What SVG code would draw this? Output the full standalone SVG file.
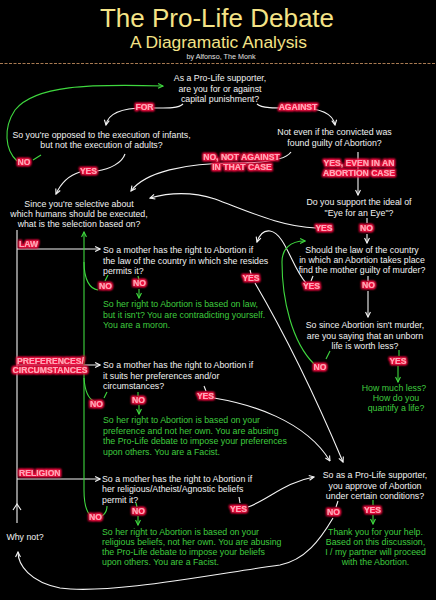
<svg xmlns="http://www.w3.org/2000/svg" width="436" height="600" viewBox="0 0 436 600">
<defs>
<style>
.q{font-family:"Liberation Sans",Arial,sans-serif;font-size:8.8px;fill:#f2f2f2}
.g{font-family:"Liberation Sans",Arial,sans-serif;font-size:8.8px;fill:#3fcc3f}
.m{text-anchor:middle}
.lb{font-family:"Liberation Sans",Arial,sans-serif;font-size:8.6px;font-weight:bold;fill:#ffa4b8;filter:url(#glow)}
.w{fill:none;stroke:#f4f4f4;stroke-width:1.1}
.gl{fill:none;stroke:#3fd83f;stroke-width:1.1}
.aw{marker-end:url(#aw)}
.ag{marker-end:url(#ag)}
.ttl{font-family:"Liberation Sans",Arial,sans-serif;fill:#f4e386;text-anchor:middle}
</style>
<filter id="glow" x="-30%" y="-60%" width="160%" height="220%">
<feMorphology in="SourceAlpha" operator="dilate" radius="0.6" result="d"/>
<feGaussianBlur in="d" stdDeviation="0.8" result="b"/>
<feFlood flood-color="#f01040"/>
<feComposite in2="b" operator="in" result="gw"/>
<feMerge><feMergeNode in="gw"/><feMergeNode in="gw"/><feMergeNode in="SourceGraphic"/></feMerge>
</filter>
<marker id="aw" viewBox="0 0 10 10" refX="9" refY="5" markerWidth="7" markerHeight="7" markerUnits="userSpaceOnUse" orient="auto">
<path d="M2,1.5 L9,5 L2,8.5" fill="none" stroke="#f4f4f4" stroke-width="1.6"/>
</marker>
<marker id="ag" viewBox="0 0 10 10" refX="9" refY="5" markerWidth="7" markerHeight="7" markerUnits="userSpaceOnUse" orient="auto">
<path d="M2,1.5 L9,5 L2,8.5" fill="none" stroke="#3fd83f" stroke-width="1.6"/>
</marker>
</defs>
<rect x="0" y="0" width="436" height="600" fill="#000"/>

<g id="title">
<text class="ttl" x="217" y="27" font-size="26">The Pro-Life Debate</text>
<text class="ttl" x="218.5" y="48" font-size="17.4">A Diagramatic Analysis</text>
<text x="221" y="59" font-family="Liberation Sans, Arial, sans-serif" font-size="7.2" fill="#e0e0e0" text-anchor="middle">by Alfonso, The Monk</text>
<line x1="0" y1="63.5" x2="436" y2="63.5" stroke="#a87a52" stroke-width="1" stroke-dasharray="3 1.5"/>
</g>

<g id="connectors">
<path class="w aw" d="M183,104 C178,109 165,108 145,108 C124,108 108,113 106,125"/>
<path class="w aw" d="M257,104 C262,109 280,108 298,108 C320,108 333,113 335,125"/>
<path class="w" d="M125,154 C122,163 110,169 97,171"/>
<path class="w aw" d="M80,172 C70,175 61,183 56,194"/>
<path class="w aw" d="M291,152 C285,161 262,163 235,163 C185,163 145,172 131,191"/>
<path class="w aw" d="M358,152 L358,195"/>
<path class="w aw" d="M316,228 C282,227 250,212 215,199 C190,191 168,193 150,198"/>
<path class="w" d="M367,218 L367,223"/>
<path class="w aw" d="M367,234 L367,243"/>
<path class="w" d="M313,276 L311,281"/>
<path class="w aw" d="M306,283 C292,268 285,233 270,231 C263,230 259,236 257,242"/>
<path class="w" d="M368,276 L368,281"/>
<path class="w aw" d="M368,291 L368,317"/>
<path class="w" d="M250,270 L251,274"/>
<path class="w aw" d="M255,283 Q300,360 343,462"/>
<path class="w" d="M204,386 L206,391"/>
<path class="w aw" d="M214,398 C250,404 305,420 330,461"/>
<path class="w" d="M239,497 L240,503"/>
<path class="w aw" d="M248,507 C268,500 285,482 314,477"/>
<path class="w" d="M338,501 L336,507"/>
<path class="w aw" d="M333,518 C320,540 305,560 280,565 C220,573 110,595 60,588 C30,582 18,565 18,552"/>
<path class="w" d="M17,230 L17,523"/>
<path class="w" d="M13,510 L17,504 L21,510"/>
<path class="w aw" d="M17,249 L100,249"/>
<path class="w aw" d="M17,365 L100,365"/>
<path class="w aw" d="M17,479 L100,479"/>

<path class="gl" d="M41,155 L33,160"/>
<path class="gl ag" d="M17,161 C5,150 3,128 15,110 C35,85 90,84 163,86"/>
<path class="gl ag" d="M90,515 C87,512 84,505 84,490 L84,232"/>
<path class="gl" d="M84,262 C84,280 90,289 98,290"/>
<path class="gl" d="M108,275 L105,281"/>
<path class="gl" d="M84,378 C85,392 89,399 94,401"/>
<path class="gl" d="M107,392 L104,398"/>
<path class="gl" d="M107,506 C107,511 105,514 102,516"/>
<path class="gl" d="M138,276 L139,280"/>
<path class="gl ag" d="M139,289 L139,298"/>
<path class="gl" d="M138,392 L138,396"/>
<path class="gl ag" d="M139,405 L139,414"/>
<path class="gl" d="M136,503 L137,507"/>
<path class="gl ag" d="M138,516 L138,525"/>
<path class="gl" d="M330,351 L326,359"/>
<path class="gl ag" d="M314,364 C292,342 282,300 282,262 C282,249 290,241 305,241"/>
<path class="gl" d="M399,350 L399,356"/>
<path class="gl ag" d="M398,366 L398,382"/>
<path class="gl" d="M373,500 L373,505"/>
<path class="gl ag" d="M373,515 L373,524"/>
</g>

<g id="edge-labels">
<text class="lb m" x="144.5" y="110">FOR</text>
<text class="lb m" x="298" y="110">AGAINST</text>
<text class="lb m" x="24" y="165">NO</text>
<text class="lb m" x="88.5" y="174">YES</text>
<text class="lb m" x="241.5" y="160">NO, NOT AGAINST</text>
<text class="lb m" x="242" y="170">IN THAT CASE</text>
<text class="lb m" x="359" y="166">YES, EVEN IN AN</text>
<text class="lb m" x="359" y="175.5">ABORTION CASE</text>
<text class="lb m" x="324" y="231">YES</text>
<text class="lb m" x="366.5" y="231">NO</text>
<text class="lb" x="19" y="246.5">LAW</text>
<text class="lb m" x="311.5" y="288.5">YES</text>
<text class="lb m" x="368.5" y="288">NO</text>
<text class="lb m" x="105.5" y="289">NO</text>
<text class="lb m" x="139.5" y="286">NO</text>
<text class="lb m" x="251" y="281">YES</text>
<text class="lb m" x="320" y="370">NO</text>
<text class="lb m" x="398" y="364">YES</text>
<text class="lb m" x="50.5" y="364">PREFERENCES/</text>
<text class="lb m" x="50" y="372.5">CIRCUMSTANCES</text>
<text class="lb m" x="96.5" y="407">NO</text>
<text class="lb m" x="138.5" y="403">NO</text>
<text class="lb m" x="205.5" y="399">YES</text>
<text class="lb" x="19" y="475.5">RELIGION</text>
<text class="lb m" x="95.5" y="520">NO</text>
<text class="lb m" x="138.5" y="514">NO</text>
<text class="lb m" x="238.5" y="512">YES</text>
<text class="lb m" x="333.5" y="515">NO</text>
<text class="lb m" x="372.5" y="513">YES</text>
</g>

<g id="q-capital">
<text class="q m" x="220" y="81">As a Pro-Life supporter,</text>
<text class="q m" x="220" y="91.5">are you for or against</text>
<text class="q m" x="220" y="102">capital punishment?</text>
</g>
<g id="q-infants">
<text class="q m" x="101.5" y="137.5">So you're opposed to the execution of infants,</text>
<text class="q m" x="101.5" y="148">but not the execution of adults?</text>
</g>
<g id="q-not-even">
<text class="q m" x="334.5" y="135">Not even if the convicted was</text>
<text class="q m" x="334.5" y="146">found guilty of Abortion?</text>
</g>
<g id="q-selective">
<text class="q m" x="79" y="206.5">Since you're selective about</text>
<text class="q m" x="79" y="216.5">which humans should be executed,</text>
<text class="q m" x="79" y="226.5">what is the selection based on?</text>
</g>
<g id="q-eye">
<text class="q m" x="359" y="205">Do you support the ideal of</text>
<text class="q m" x="359" y="215.5">"Eye for an Eye"?</text>
</g>
<g id="q-law-country">
<text class="q m" x="362" y="253">Should the law of the country</text>
<text class="q m" x="362" y="263">in which an Abortion takes place</text>
<text class="q m" x="362" y="273">find the mother guilty of murder?</text>
</g>
<g id="q-law">
<text class="q" x="103" y="253">So a mother has the right to Abortion if</text>
<text class="q" x="103" y="263.5">the law of the country in which she resides</text>
<text class="q" x="103" y="274">permits it?</text>
</g>
<g id="r-law">
<text class="g" x="103" y="307">So her right to Abortion is based on law,</text>
<text class="g" x="103" y="317.5">but it isn't? You are contradicting yourself.</text>
<text class="g" x="103" y="328">You are a moron.</text>
</g>
<g id="q-worth">
<text class="q m" x="365" y="328">So since Abortion isn't murder,</text>
<text class="q m" x="365" y="338.5">are you saying that an unborn</text>
<text class="q m" x="365" y="349">life is worth less?</text>
</g>
<g id="r-how-much">
<text class="g m" x="394" y="390.8">How much less?</text>
<text class="g m" x="396" y="400.8">How do you</text>
<text class="g m" x="396" y="410.8">quantify a life?</text>
</g>
<g id="q-preferences">
<text class="q" x="103" y="368">So a mother has the right to Abortion if</text>
<text class="q" x="103" y="378.7">it suits her preferences and/or</text>
<text class="q" x="103" y="389">circumstances?</text>
</g>
<g id="r-preferences">
<text class="g" x="103" y="423">So her right to Abortion is based on your</text>
<text class="g" x="103" y="433.7">preference and not her own. You are abusing</text>
<text class="g" x="103" y="444">the Pro-Life debate to impose your preferences</text>
<text class="g" x="103" y="454.7">upon others. You are a Facist.</text>
</g>
<g id="q-approve">
<text class="q m" x="375" y="478">So as a Pro-Life supporter,</text>
<text class="q m" x="375" y="488.7">you approve of Abortion</text>
<text class="q m" x="375" y="499">under certain conditions?</text>
</g>
<g id="q-religion">
<text class="q" x="102" y="482.3">So a mother has the right to Abortion if</text>
<text class="q" x="102" y="492.3">her religious/Atheist/Agnostic beliefs</text>
<text class="q" x="102" y="503">permit it?</text>
</g>
<g id="r-religion">
<text class="g" x="102" y="534.7">So her right to Abortion is based on your</text>
<text class="g" x="102" y="544.7">religious beliefs, not her own. You are abusing</text>
<text class="g" x="102" y="554.7">the Pro-Life debate to impose your beliefs</text>
<text class="g" x="102" y="565.3">upon others. You are a Facist.</text>
</g>
<g id="r-thanks">
<text class="g m" x="375.5" y="534.7">Thank you for your help.</text>
<text class="g m" x="375.5" y="544.7">Based on this discussion,</text>
<text class="g m" x="375.5" y="554.7">I / my partner will proceed</text>
<text class="g m" x="375.5" y="564.7">with the Abortion.</text>
</g>
<g id="q-why-not">
<text class="q m" x="25" y="540">Why not?</text>
</g>
</svg>
